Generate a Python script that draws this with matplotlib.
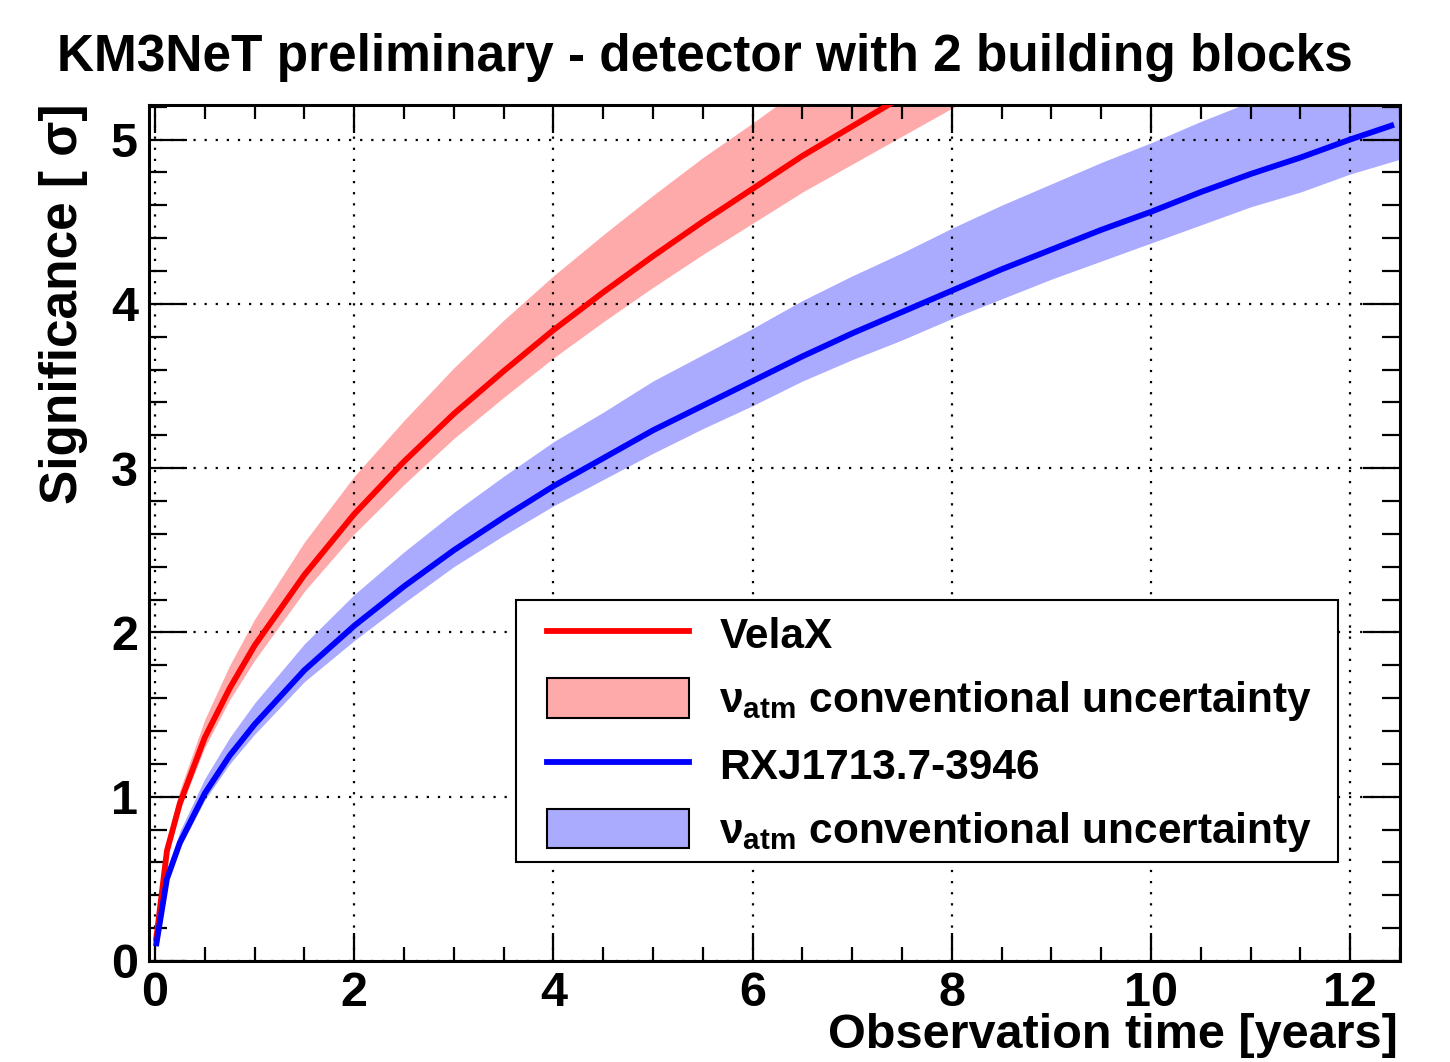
import matplotlib
matplotlib.use("Agg")
import matplotlib.pyplot as plt
from matplotlib.patches import Patch, Rectangle
from matplotlib.lines import Line2D
from matplotlib.ticker import MultipleLocator

plt.rcParams['font.family'] = ['Liberation Sans', 'DejaVu Sans']
plt.rcParams['font.weight'] = 'bold'
plt.rcParams['mathtext.fontset'] = 'custom'
plt.rcParams['mathtext.rm'] = 'Liberation Sans:bold'
plt.rcParams['mathtext.bf'] = 'Liberation Sans:bold'

# ---- data ----
t_vela = [0.01, 0.12, 0.25, 0.5, 0.75, 1, 1.5, 2, 2.5, 3, 3.5, 4, 4.5, 5, 5.5, 6, 6.5, 7, 7.5, 8, 8.5]
vela = [0.12, 0.67, 0.96, 1.36, 1.66, 1.92, 2.35, 2.72, 3.04, 3.33, 3.59, 3.84, 4.07, 4.29, 4.50, 4.70, 4.90, 5.08, 5.26, 5.43, 5.60]
vela_lo = [0.11, 0.64, 0.92, 1.30, 1.59, 1.83, 2.25, 2.60, 2.90, 3.18, 3.43, 3.67, 3.89, 4.10, 4.30, 4.49, 4.68, 4.85, 5.02, 5.19, 5.35]
vela_hi = [0.13, 0.73, 1.04, 1.47, 1.80, 2.08, 2.55, 2.95, 3.29, 3.61, 3.90, 4.17, 4.42, 4.66, 4.89, 5.10, 5.32, 5.51, 5.71, 5.89, 6.07]

t_rxj = [0.01, 0.12, 0.25, 0.5, 0.75, 1, 1.5, 2, 2.5, 3, 3.5, 4, 4.5, 5, 5.5, 6, 6.5, 7, 7.5, 8, 8.5, 9, 9.5, 10, 10.5, 11, 11.5, 12, 12.44]
rxj = [0.09, 0.50, 0.72, 1.02, 1.25, 1.44, 1.77, 2.04, 2.28, 2.50, 2.70, 2.89, 3.06, 3.23, 3.38, 3.53, 3.68, 3.82, 3.95, 4.08, 4.21, 4.33, 4.45, 4.56, 4.68, 4.79, 4.89, 5.00, 5.09]
t_rxj_band = [0.01, 0.12, 0.25, 0.5, 0.75, 1, 1.5, 2, 2.5, 3, 3.5, 4, 4.5, 5, 5.5, 6, 6.5, 7, 7.5, 8, 8.5, 9, 9.5, 10, 10.5, 11, 11.5, 12, 12.5]
rxj_lo = [0.09, 0.48, 0.69, 0.98, 1.20, 1.38, 1.70, 1.95, 2.18, 2.40, 2.59, 2.77, 2.93, 3.09, 3.24, 3.38, 3.53, 3.66, 3.78, 3.91, 4.03, 4.15, 4.26, 4.37, 4.48, 4.59, 4.68, 4.79, 4.88]
rxj_hi = [0.10, 0.55, 0.79, 1.11, 1.36, 1.57, 1.93, 2.23, 2.49, 2.73, 2.95, 3.16, 3.34, 3.53, 3.69, 3.85, 4.02, 4.17, 4.31, 4.46, 4.60, 4.73, 4.86, 4.98, 5.11, 5.23, 5.34, 5.46, 5.57]

x_ticks = [0, 2, 4, 6, 8, 10, 12]
y_ticks = [0, 1, 2, 3, 4, 5]
title = "KM3NeT preliminary - detector with 2 building blocks"
xlabel = "Observation time [years]"
ylabel = "Significance [ σ]"
band_label = r"ν$_{\mathbf{atm}}$ conventional uncertainty"
series_labels = ["VelaX", "RXJ1713.7-3946"]

fig = plt.figure(figsize=(14.5, 10.62), dpi=100)
ax = fig.add_axes([149/1450, 1-961/1062, (1400-149)/1450, (961-105)/1062])

c_red_band = '#ffaaaa'
c_blue_band = '#aaaaff'
LW = 4.2
ax.fill_between(t_vela, vela_lo, vela_hi, color=c_red_band, lw=0, zorder=2)
ax.fill_between(t_rxj_band, rxj_lo, rxj_hi, color=c_blue_band, lw=0, zorder=2)
ax.plot(t_vela, vela, color='#ff0000', lw=LW, zorder=3, solid_capstyle='butt')
ax.plot(t_rxj, rxj, color='#0000ff', lw=LW, zorder=3, solid_capstyle='butt')

ax.set_xlim(-0.06, 12.5)
ax.set_ylim(0, 5.21)
ax.set_xticks(x_ticks)
ax.set_yticks(y_ticks)
ax.xaxis.set_minor_locator(MultipleLocator(0.5))
ax.yaxis.set_minor_locator(MultipleLocator(0.2))
ax.tick_params(which='both', direction='in', top=True, right=True, width=1.6, colors='black')
ax.tick_params(which='major', axis='x', length=20, labelsize=35, pad=7)
ax.tick_params(which='minor', axis='x', length=10)
ax.tick_params(which='major', axis='y', length=27, labelsize=35, pad=8)
ax.tick_params(which='minor', axis='y', length=13)
for lab in ax.get_xticklabels() + ax.get_yticklabels():
    lab.set_fontweight('bold')
for s in ax.spines.values():
    s.set_linewidth(2.2)
ax.grid(True, which='major', color='black', linestyle=(0, (1, 4)), lw=1.6, zorder=1)
ax.set_axisbelow(False)

fig.text(705/1450, 1-58/1062, title, ha='center', va='center', fontsize=37, fontweight='bold')
fig.text(1398/1450, 1-1036/1062, xlabel, ha='right', va='center', fontsize=35, fontweight='bold')
fig.text(64/1450, 1-104/1062, ylabel, ha='center', va='top', rotation=90, fontsize=37, fontweight='bold')

# legend box (frame drawn separately for exact placement)
def ax_x(px):
    return (px - 149) / 1251
def ax_y(py):
    return (961 - py) / 856

frame = Rectangle((ax_x(516), ax_y(862)), ax_x(1338) - ax_x(516), ax_y(600) - ax_y(862),
                  transform=ax.transAxes, facecolor='white', edgecolor='black', lw=1.5, zorder=5)
ax.add_patch(frame)

handles = [
    Line2D([], [], color='#ff0000', lw=LW),
    Patch(facecolor=c_red_band, edgecolor='black', lw=1.5),
    Line2D([], [], color='#0000ff', lw=LW),
    Patch(facecolor=c_blue_band, edgecolor='black', lw=1.5),
]
labels = [series_labels[0], band_label, series_labels[1], band_label]
leg = ax.legend(handles, labels, loc='upper left',
                bbox_to_anchor=(ax_x(547), ax_y(614)),
                prop={'weight': 'bold', 'size': 30.5}, frameon=False,
                handlelength=3.35, handleheight=1.05,
                labelspacing=0.5, borderaxespad=0, borderpad=0, handletextpad=0.72)
leg.set_zorder(6)

fig.savefig("out.png", dpi=100)
